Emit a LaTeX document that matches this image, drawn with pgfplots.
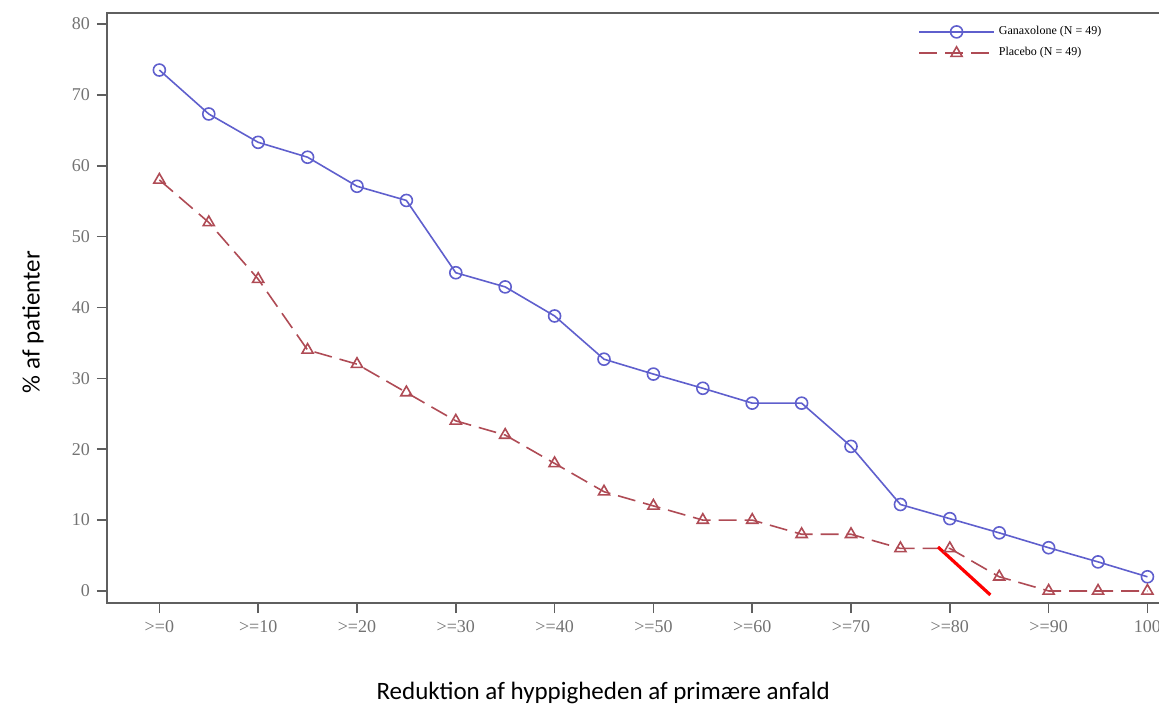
\documentclass[border=0pt]{standalone}
\usepackage{fontspec}
\setmainfont{Liberation Serif}
\newfontfamily\calfont{Carlito}
\usepackage{pgfplots}
\pgfplotsset{compat=1.18}
\definecolor{ganblue}{RGB}{95,95,205}
\definecolor{plared}{RGB}{175,75,85}
\definecolor{axgray}{RGB}{95,95,95}
\definecolor{tickgray}{RGB}{115,115,115}

\begin{document}
\begin{tikzpicture}
\begin{axis}[
  name=ax,
  scale only axis,
  width=546.4pt, height=295pt,
  xmin=-5.3, xmax=105.3,
  ymin=-1.7, ymax=81.55,
  xtick={0,10,...,100},
  xticklabels={>=0,>=10,>=20,>=30,>=40,>=50,>=60,>=70,>=80,>=90,100},
  ytick={0,10,...,80},
  xtick pos=lower, ytick pos=left,
  tick align=outside,
  major tick length=5pt,
  axis line style={axgray, line width=1pt},
  tick style={axgray, line width=0.8pt},
  ticklabel style={tickgray, font=\fontsize{9}{10}\selectfont},
  /pgf/number format/assume math mode=true,
  xlabel={Reduktion af hyppigheden af primære anfald},
  ylabel={\% af patienter},
  label style={font=\calfont\fontsize{12.5}{15}\selectfont, black},
  xlabel style={at={(rel axis cs:0.454,-0.1525)}, anchor=center},
  ylabel style={at={(rel axis cs:-0.0677,0.476)}, anchor=center, rotate=0},
  legend style={draw=none, fill=none, at={(rel axis cs:0.742,0.985)},
    anchor=north west, font=\fontsize{6}{7}\selectfont,
    row sep=1pt, inner sep=0pt},
  legend cell align=left,
  legend image code/.code={
    \draw[mark repeat=2, mark phase=2, #1]
      plot coordinates {(0pt,0pt) (18.75pt,0pt) (37.5pt,0pt)};
  },
]
\addplot[ganblue, line width=0.8pt, mark=o, mark size=3pt,
  mark options={line width=0.8pt}] coordinates {
  (0,73.5) (5,67.3) (10,63.3) (15,61.2) (20,57.1) (25,55.1) (30,44.9)
  (35,42.9) (40,38.8) (45,32.7) (50,30.6) (55,28.6) (60,26.5) (65,26.5)
  (70,20.4) (75,12.2) (80,10.2) (85,8.2) (90,6.1) (95,4.1) (100,2.0)
};
\addlegendentry{Ganaxolone (N = 49)}
\addplot[plared, line width=0.8pt, dash pattern=on 9pt off 4pt,
  mark=triangle, mark size=3.2pt,
  mark options={solid, line width=0.8pt}] coordinates {
  (0,58) (5,52) (10,44) (15,34) (20,32) (25,28) (30,24) (35,22)
  (40,18) (45,14) (50,12) (55,10) (60,10) (65,8) (70,8) (75,6)
  (80,6) (85,2) (90,0) (95,0) (100,0)
};
\addlegendentry{Placebo (N = 49)}
\addplot[red, line width=1.6pt, forget plot] coordinates {
  (78.8,6.2) (84.1,-0.56)
};
\end{axis}
\pgfresetboundingbox
\useasboundingbox ([xshift=-53.5pt,yshift=-51.5pt]ax.south west)
  rectangle ([xshift=526pt,yshift=6.5pt]ax.north west);
\end{tikzpicture}
\end{document}
